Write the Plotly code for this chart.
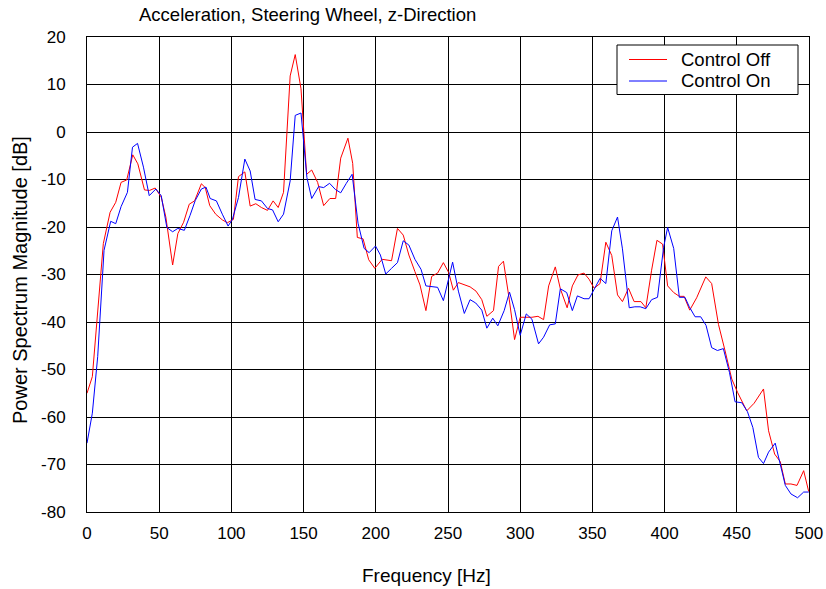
import plotly.graph_objects as go

# Control Off (red)
off_f = [0, 3.7, 11.3, 16, 19.9, 23.6, 27.5, 31.7, 35.2, 39.8, 43.3, 47.2, 51.4, 54.6, 59.3, 62.9,
         66.9, 70.8, 74.5, 79.2, 81.9, 85, 89.1, 93.7, 97.2, 101.4, 104.9, 109.3, 113, 116.9, 120.8,
         125, 128.9, 132.4, 136.1, 140.7, 144.2, 148.2, 152.1, 155.6, 159.7, 163.9, 168.2, 172.2,
         175.7, 180.7, 184, 187.2, 191.2, 195.1, 199.3, 204.4, 210.9, 215, 219, 222.9, 227.1, 230.6,
         234.7, 238.7, 242.8, 246.8, 250.5, 253.7, 257.2, 261.1, 265.3, 269.4, 273.4, 276.9, 281.5,
         285, 288.4, 292.4, 296.1, 300, 304.2, 308.1, 312.3, 316.2, 319.7, 324.3, 327.8, 332.5,
         336.1, 340, 344.2, 347.7, 351.2, 355.3, 359.3, 363.4, 367.4, 370.8, 375, 378.9, 383.6, 387,
         391, 394.7, 398.6, 402.1, 406.3, 410.2, 413.5, 417.4, 422.2, 428.5, 432.6, 437.3, 441.9,
         446.5, 450.5, 456.9, 462, 465.7, 468.5, 472, 476.2, 480.1, 483.6, 487.5, 491.7, 496.3, 499.8]
off_db = [-55, -51.5, -23.5, -16.9, -14.8, -10.6, -10.1, -4.8, -6.7, -12.2, -12.3, -11.8, -13.7, -17.9,
          -28, -21.4, -19, -15.2, -14.5, -10.9, -11.7, -15.5, -17.3, -18.5, -19.1, -18.4, -9.4, -8.4,
          -15.6, -15.1, -15.9, -16.5, -14.5, -15.9, -12.7, 11.8, 16.3, 9.1, -8.9, -8, -10.6, -15.5,
          -14, -14, -5.5, -1.3, -6.6, -22.2, -22.5, -26.9, -28.7, -26.8, -27.1, -20.3, -21.7, -25.9,
          -29.4, -32.2, -37.6, -30.4, -29.7, -27.5, -29.6, -33.3, -31.7, -32.1, -32.6, -33.5, -35.3,
          -38.8, -37.6, -28.3, -27.2, -35.2, -43.7, -39, -39, -39, -38.8, -39.5, -32.4, -28.4, -33,
          -37, -32.4, -30.1, -29.7, -31, -32.9, -31.9, -23.2, -26, -34.3, -35.7, -32.9, -35.7, -35.7,
          -37, -29.1, -22.8, -23.6, -32.4, -33.8, -34.6, -34.6, -37.5, -34.9, -30.5, -31.9, -40.5,
          -46.1, -52, -54.8, -58.7, -57.1, -55.5, -54.1, -62.9, -67.8, -69.4, -74.1, -74.1, -74.4,
          -71.3, -75.7]

# Control On (blue)
on_f = [0, 3.7, 7.4, 11.8, 16.4, 19.9, 23.6, 28, 31.5, 35, 39.1, 43.1, 47.7, 51.4, 55.3, 59.3, 62.9,
        67.4, 71.3, 75, 79.2, 82.4, 85.3, 89.6, 93.7, 97.7, 100.7, 104.9, 109.3, 113, 116.4, 120.8,
        125, 128.5, 132.4, 136.1, 140.7, 144.2, 148.2, 152.3, 155.6, 160.4, 163.9, 168, 172, 175.7,
        179.6, 183.6, 187.7, 191.9, 195.4, 199.8, 203.2, 206.9, 210.9, 215, 219, 222.9, 227.1, 231.3,
        234.7, 238.7, 242.8, 246.8, 250.5, 253.2, 257.2, 261.3, 265.3, 269.2, 273.4, 276.9, 281,
        284.5, 288.9, 292.6, 296.1, 300, 304.2, 308.1, 312.7, 316.2, 320.4, 324.3, 327.8, 332.2,
        336.1, 339.6, 344.2, 347.7, 351.6, 355.3, 359.3, 363.4, 367.4, 370.8, 375.5, 379.4, 383.1,
        387, 391, 395.1, 399.3, 402.1, 406.3, 410.2, 414.1, 417.1, 421.1, 425, 428.7, 432.6, 436.6,
        440.7, 444.9, 448.8, 453.5, 457.4, 461.1, 465, 468.5, 472, 476.6, 480.6, 483.6, 487.5, 492.1,
        496.3, 499.8]
on_db = [-65.5, -59.2, -47.3, -24.9, -18.8, -19.3, -15.7, -12.7, -3.2, -2.4, -7.4, -13.4, -12, -13.4,
         -20.1, -21, -20.3, -20.7, -17.6, -14.4, -12, -11.6, -14, -14.5, -17.3, -19.8, -18.4, -13.8,
         -5.7, -8.2, -14.2, -14.5, -16.1, -16.4, -18.9, -17.3, -10.3, 3.5, 4, -9.6, -14, -11.5, -11.7,
         -10.8, -12.1, -12.8, -10.8, -8.9, -19.2, -24.5, -25.4, -24, -25.9, -29.9, -28.7, -27.5, -22.9,
         -23.8, -26.8, -28.9, -32.4, -32.5, -32.7, -35.5, -31, -27.4, -33.5, -38.2, -35.3, -36, -37.5,
         -41.3, -39.2, -40.8, -37.6, -33.7, -37.4, -42.8, -38.3, -39.4, -44.6, -43.2, -40.6, -40.4,
         -33, -33.8, -37.6, -34.5, -35.1, -35.1, -32.9, -30.8, -31.9, -20.8, -17.9, -24.6, -37, -36.8,
         -36.8, -37.2, -35.3, -34.8, -24.3, -20.1, -24.5, -34.8, -34.8, -36.8, -38.9, -38.9, -40.7,
         -45.4, -46, -45.6, -50.6, -56.8, -57, -58.9, -62.2, -68.5, -69.8, -67.4, -65.5, -70.8, -74.4,
         -76.2, -77, -75.8, -75.8]

series_names = ["Control Off", "Control On"]
series_colors = ["#ff0000", "#0000ff"]

x_ticks = [0, 50, 100, 150, 200, 250, 300, 350, 400, 450, 500]
y_ticks = [20, 10, 0, -10, -20, -30, -40, -50, -60, -70, -80]

FONT = "Arial, Liberation Sans, Helvetica, sans-serif"

# plot-area geometry in pixels (for converting layout positions to paper coords)
L, R, T, B = 87, 809, 37, 512
def px(x):
    return (x - L) / (R - L)
def py(y):
    return (B - y) / (B - T)

fig = go.Figure()
for f, d, name, col in [(off_f, off_db, series_names[0], series_colors[0]),
                        (on_f, on_db, series_names[1], series_colors[1])]:
    fig.add_trace(go.Scatter(x=f, y=d, mode="lines", name=name,
                             line=dict(color=col, width=1), showlegend=False))

axis_common = dict(showgrid=True, gridcolor="black", gridwidth=1, showline=True,
                   linecolor="black", linewidth=1, mirror=True, zeroline=False,
                   automargin=False, ticks="",
                   tickfont=dict(family=FONT, size=17, color="black"))

# custom legend box (matches reference boxed legend)
shapes = [dict(type="rect", xref="paper", yref="paper", x0=px(617), x1=px(798),
               y0=py(94.5), y1=py(45), fillcolor="white", line=dict(color="black", width=1),
               layer="above")]
annotations = []
for i, (name, col) in enumerate(zip(series_names, series_colors)):
    yc = 59.5 + i * 21.5
    shapes.append(dict(type="line", xref="paper", yref="paper", x0=px(629), x1=px(667),
                       y0=py(yc), y1=py(yc), line=dict(color=col, width=1), layer="above"))
    annotations.append(dict(text=name, xref="paper", yref="paper", x=px(679), y=py(yc),
                            xanchor="left", yanchor="middle", showarrow=False,
                            font=dict(family=FONT, size=18.5, color="black")))

annotations += [
    dict(text="Acceleration, Steering Wheel, z-Direction", xref="paper", yref="paper",
         x=px(137), y=py(15), xanchor="left", yanchor="middle",
         showarrow=False, font=dict(family=FONT, size=18.5, color="black")),
    dict(text="Frequency [Hz]", xref="paper", yref="paper",
         x=px(426), y=py(575), xanchor="center", yanchor="middle",
         showarrow=False, font=dict(family=FONT, size=19, color="black")),
    dict(text="Power Spectrum Magnitude [dB]", xref="paper", yref="paper",
         x=px(20), y=py(280), xanchor="center", yanchor="middle", textangle=-90,
         showarrow=False, font=dict(family=FONT, size=20, color="black")),
]

fig.update_layout(
    width=826, height=589,
    margin=dict(l=L, r=826 - R, t=T, b=589 - B, autoexpand=False),
    paper_bgcolor="white", plot_bgcolor="white",
    font=dict(family=FONT, color="black"),
    xaxis=dict(range=[0, 500], tickvals=x_ticks, ticktext=[str(v) for v in x_ticks],
               ticklabelstandoff=6, **axis_common),
    yaxis=dict(range=[-80, 20], tickvals=y_ticks, ticktext=[str(v) for v in y_ticks],
               ticklabelstandoff=17, **axis_common),
    showlegend=False,
    shapes=shapes,
    annotations=annotations,
)

fig.write_html("out.html")
